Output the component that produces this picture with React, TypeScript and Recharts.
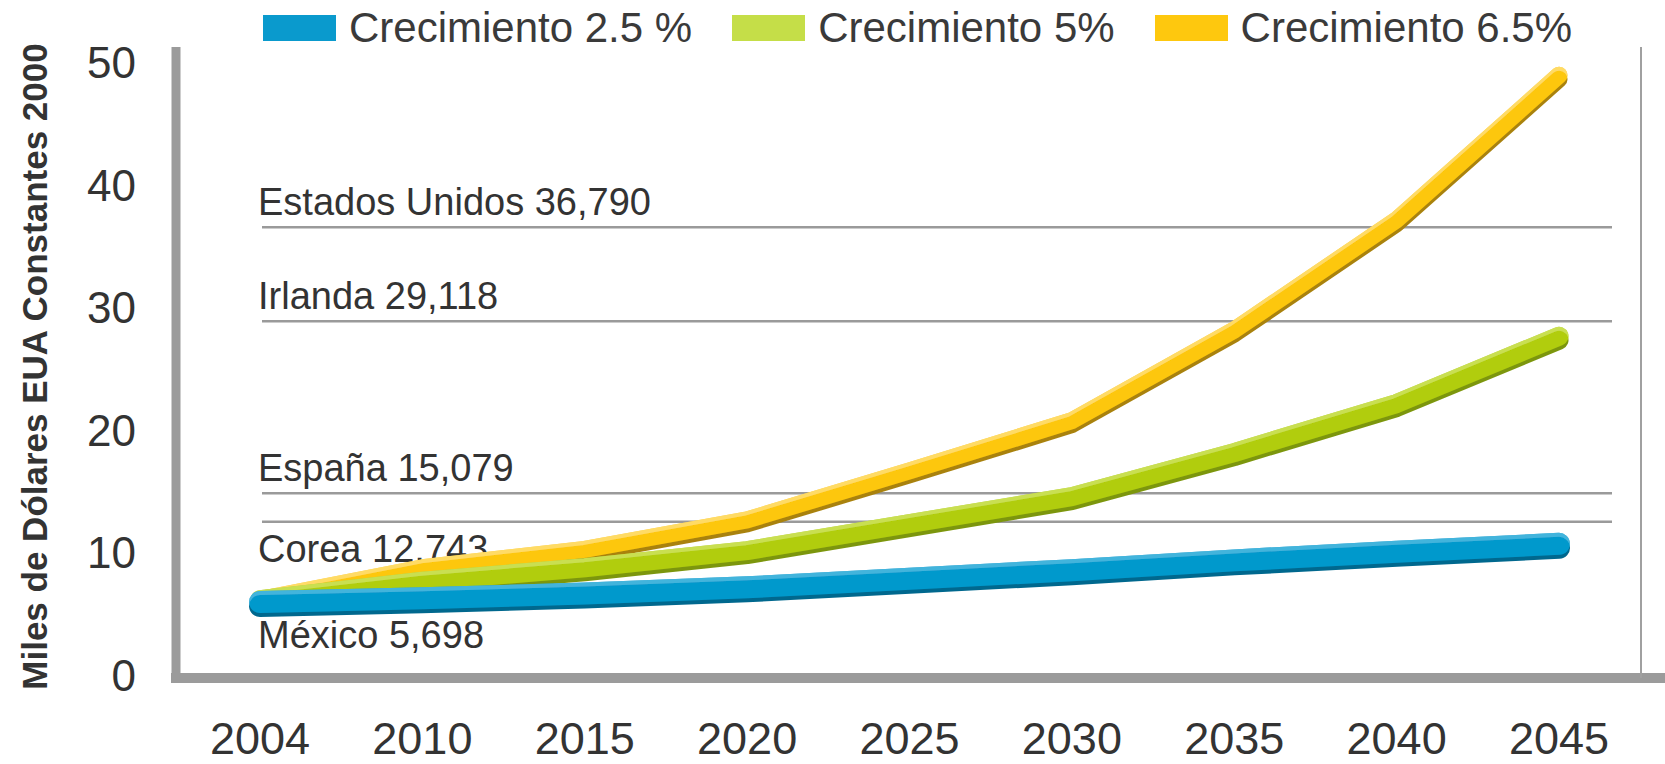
import React from 'react';
import { LineChart, Line, XAxis, YAxis, ReferenceLine, Legend } from 'recharts';

const FONT = '"Liberation Sans", Arial, sans-serif';

// categorías del eje X
const years = ['2004', '2010', '2015', '2020', '2025', '2030', '2035', '2040', '2045'];

// PIB per cápita (miles de dólares EUA constantes 2000)
const crec25 = [6.2, 6.5, 6.9, 7.4, 8.1, 8.8, 9.6, 10.3, 10.95];
const crec5 = [6.4, 7.9, 9.0, 10.4, 12.6, 14.8, 18.4, 22.4, 27.9];
const crec65 = [6.4, 9.0, 10.5, 12.9, 16.9, 21.0, 28.4, 37.4, 49.2];

const yTicks = [0, 10, 20, 30, 40, 50];

// países de referencia
const refNames = ['Estados Unidos 36,790', 'Irlanda 29,118', 'España 15,079', 'Corea 12,743', 'México 5,698'];
const refValues = [36.79, 29.118, 15.079, 12.743, 5.698];
const refBelow = [false, false, false, true, true];
const refShown = [true, true, true, true, false];

const series = [
  { key: 'c25', name: 'Crecimiento 2.5 %', color: '#0399cc', swatch: '#0a9acd', dark: '#05688e', light: '#4bbbe0', width: 22 },
  { key: 'c5', name: 'Crecimiento 5%', color: '#b1cd0e', swatch: '#c5de48', dark: '#7c960a', light: '#cfe35a', width: 19 },
  { key: 'c65', name: 'Crecimiento 6.5%', color: '#fdc70b', swatch: '#fec80e', dark: '#a9820e', light: '#ffe070', width: 17 },
];

const data = years.map((year, i) => ({
  year,
  c25: crec25[i],
  c5: crec5[i],
  c65: crec65[i],
}));

const LegendContent = (props: any) => {
  const order = series.map(s => s.name);
  const items = [...(props.payload || [])].sort((a: any, b: any) => order.indexOf(a.value) - order.indexOf(b.value));
  return (
    <div style={{ display: 'flex', alignItems: 'center', fontFamily: FONT }}>
      {items.map((item: any) => {
        const s = series.find(x => x.name === item.value);
        return (
          <div key={item.value} style={{ display: 'flex', alignItems: 'center', marginRight: 40 }}>
            <div style={{ width: 73, height: 26, background: s ? s.swatch : item.color, marginRight: 13 }} />
            <span style={{ fontSize: 42, color: '#3a3a3a', lineHeight: '44px', whiteSpace: 'nowrap' }}>{item.value}</span>
          </div>
        );
      })}
    </div>
  );
};

const YTitle = (props: any) => {
  const vb = props.viewBox;
  const cy = vb ? vb.y + vb.height / 2 + 4 : 366;
  return (
    <text
      x={34}
      y={cy}
      transform={`rotate(-90, 34, ${cy})`}
      textAnchor="middle"
      dominantBaseline="central"
      fontSize={35}
      fontWeight="bold"
      fill="#333"
      fontFamily={FONT}
    >
      Miles de Dólares EUA Constantes 2000
    </text>
  );
};

const refShape = (idx: number) => (p: any) => {
  const y = p.y1;
  const xs = p.x1 + 86;
  const xe = p.x2 - 29;
  return (
    <g>
      {refShown[idx] && <line x1={xs} y1={y} x2={xe} y2={y} stroke="#9a9a9a" strokeWidth={2.5} />}
      <text x={xs - 4} y={refBelow[idx] ? y + 40 : y - 12} fontSize={38} fill="#333" fontFamily={FONT}>
        {refNames[idx]}
      </text>
    </g>
  );
};

export default function App() {
  return (
    <div style={{ position: 'absolute', left: 0, top: 0, width: 1665, height: 764, background: '#fff' }}>
      <LineChart width={1665} height={764} data={data} margin={{ top: 47, right: 0, bottom: 0, left: 0 }}>
        <defs>
          {series.map(s => (
            <filter key={s.key} id={`fx-${s.key}`} filterUnits="userSpaceOnUse" x={0} y={0} width={1665} height={764}>
              <feOffset in="SourceAlpha" dy={4} result="down" />
              <feFlood floodColor={s.dark} result="dk" />
              <feComposite in="dk" in2="down" operator="in" result="shadow" />
              <feOffset in="SourceAlpha" dy={4} result="down2" />
              <feComposite in="SourceAlpha" in2="down2" operator="out" result="topband" />
              <feFlood floodColor={s.light} floodOpacity={0.8} result="lt" />
              <feComposite in="lt" in2="topband" operator="in" result="hl" />
              <feMerge>
                <feMergeNode in="shadow" />
                <feMergeNode in="SourceGraphic" />
                <feMergeNode in="hl" />
              </feMerge>
            </filter>
          ))}
        </defs>
        <XAxis
          dataKey="year"
          height={86}
          padding={{ left: 84, right: 82 }}
          axisLine={{ stroke: '#9b9b9b', strokeWidth: 10, strokeLinecap: 'square' }}
          tickLine={false}
          tickSize={0}
          tickMargin={44}
          tick={{ fontSize: 45, fill: '#333', fontFamily: FONT }}
          interval={0}
        />
        <YAxis
          yAxisId="left"
          width={176}
          domain={[0, 51.5]}
          ticks={yTicks}
          axisLine={{ stroke: '#9b9b9b', strokeWidth: 9 }}
          tickLine={false}
          tickSize={0}
          tickMargin={40}
          tick={{ fontSize: 44, fill: '#333', fontFamily: FONT, dy: -3 }}
          label={{ content: (p: any) => <YTitle {...p} /> }}
        />
        <YAxis
          yAxisId="right"
          orientation="right"
          width={24}
          domain={[0, 51.5]}
          tick={false}
          tickLine={false}
          axisLine={{ stroke: '#a0a0a0', strokeWidth: 2 }}
        />
        {refValues.map((v, i) => (
          <ReferenceLine key={refNames[i]} yAxisId="left" y={v} shape={refShape(i)} />
        ))}
        {[...series].reverse().map(s => (
          <Line
            key={s.key}
            yAxisId="left"
            type="linear"
            dataKey={s.key}
            name={s.name}
            stroke={s.color}
            strokeWidth={s.width}
            strokeLinecap="round"
            strokeLinejoin="round"
            filter={`url(#fx-${s.key})`}
            dot={false}
            activeDot={false}
            isAnimationActive={false}
          />
        ))}
        <Legend
          layout="horizontal"
          verticalAlign="middle"
          align="center"
          wrapperStyle={{ top: 6, left: 263, width: 'auto' }}
          content={LegendContent}
        />
      </LineChart>
      <div style={{ position: 'absolute', left: 1646, top: 673, width: 19, height: 10, background: '#9b9b9b' }} />
    </div>
  );
}
